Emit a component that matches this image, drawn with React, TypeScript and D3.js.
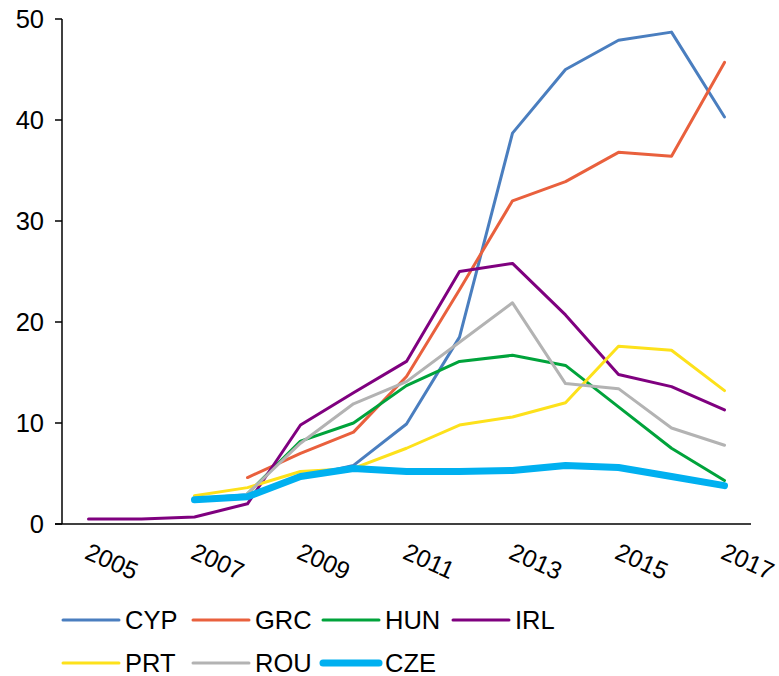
import React from "react";
import { scalePoint, scaleLinear, line } from "d3";

const years = ["2005", "2006", "2007", "2008", "2009", "2010", "2011", "2012", "2013", "2014", "2015", "2016", "2017"];
const yTicks = [0, 10, 20, 30, 40, 50];
const xLabels = ["2005", "2007", "2009", "2011", "2013", "2015", "2017"];

const CYP = [null, null, 2.5, 2.9, 4.6, 5.8, 9.9, 18.5, 38.7, 45.0, 47.9, 48.7, 40.3];
const GRC = [null, null, null, 4.6, 7.0, 9.1, 14.6, 23.2, 32.0, 33.9, 36.8, 36.4, 45.7];
const HUN = [null, null, null, 3.0, 8.2, 10.0, 13.7, 16.1, 16.7, 15.7, 11.6, 7.5, 4.3];
const IRL = [0.5, 0.5, 0.7, 2.0, 9.8, 13.0, 16.1, 25.0, 25.8, 20.7, 14.8, 13.6, 11.3];
const PRT = [null, null, 2.8, 3.6, 5.2, 5.5, 7.5, 9.8, 10.6, 12.0, 17.6, 17.2, 13.2];
const ROU = [null, null, null, 3.0, 8.0, 11.9, 14.1, 18.0, 21.9, 13.9, 13.4, 9.5, 7.8];
const CZE = [null, null, 2.4, 2.7, 4.7, 5.5, 5.2, 5.2, 5.3, 5.8, 5.6, 4.7, 3.8];

const series = [
  { name: "CYP", values: CYP, color: "#4a7ebf", width: 3 },
  { name: "GRC", values: GRC, color: "#e9603d", width: 3 },
  { name: "HUN", values: HUN, color: "#00a33b", width: 3 },
  { name: "IRL", values: IRL, color: "#7f007f", width: 3 },
  { name: "PRT", values: PRT, color: "#fde11b", width: 3 },
  { name: "ROU", values: ROU, color: "#b3b3b3", width: 3 },
  { name: "CZE", values: CZE, color: "#00b0f0", width: 7 },
];

const font = "'Liberation Sans', Arial, sans-serif";
const fs = 25.5;

export default function App() {
  const x = scalePoint<string>().domain(years).range([62, 751]).padding(0.5);
  const y = scaleLinear().domain([0, 50]).range([524, 19]);

  const lineGen = line<number | null>()
    .defined((d) => d != null)
    .x((_, i) => x(years[i]) as number)
    .y((d) => y(d as number));

  return (
    <svg width={779} height={676} style={{ position: "absolute", left: 0, top: 0, fontFamily: font }}>
      <rect width={779} height={676} fill="#fff" />
      {/* y axis */}
      <line x1={62} x2={62} y1={y(50)} y2={y(0)} stroke="#000" strokeWidth={1.5} />
      {yTicks.map((t) => (
        <g key={t}>
          <line x1={55} x2={62} y1={y(t)} y2={y(t)} stroke="#000" strokeWidth={1.5} />
          <text x={44} y={y(t)} dy="0.35em" textAnchor="end" fontSize={fs} fill="#000">
            {t}
          </text>
        </g>
      ))}
      {/* x axis */}
      <line x1={55} x2={751} y1={y(0)} y2={y(0)} stroke="#000" strokeWidth={1.5} />
      {xLabels.map((yr) => (
        <text
          key={yr}
          transform={`translate(${(x(yr) as number) - 5},558) rotate(24)`}
          fontSize={24.5}
          fill="#000"
        >
          {yr}
        </text>
      ))}
      {series.map((s) => (
        <path
          key={s.name}
          d={lineGen(s.values) || ""}
          fill="none"
          stroke={s.color}
          strokeWidth={s.width}
          strokeLinejoin="round"
          strokeLinecap="round"
        />
      ))}
      {/* legend */}
      {series.map((s, i) => {
        const col = i < 4 ? i : i - 4;
        const row = i < 4 ? 0 : 1;
        const lx = 63 + col * 130;
        const ly = 620 + row * 43;
        return (
          <g key={s.name}>
            <line x1={lx} x2={lx + 56} y1={ly} y2={ly} stroke={s.color} strokeWidth={s.width} strokeLinecap="round" />
            <text x={lx + 62} y={ly} dy="0.35em" fontSize={fs} fill="#000">
              {s.name}
            </text>
          </g>
        );
      })}
    </svg>
  );
}
